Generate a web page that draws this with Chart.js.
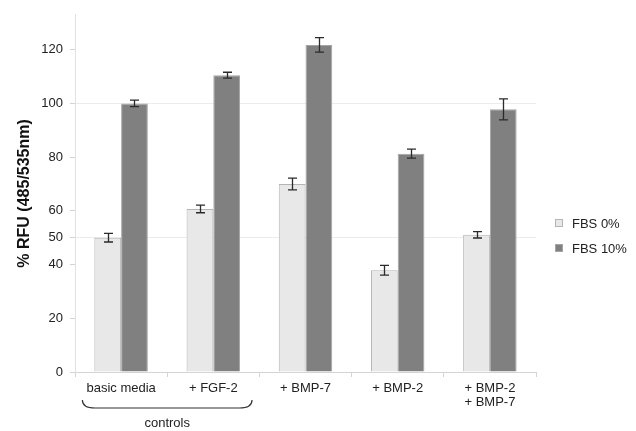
<!DOCTYPE html>
<html>
<head>
<meta charset="utf-8">
<script src="https://cdn.jsdelivr.net/npm/chart.js@4"></script>
<style>
  html, body { margin: 0; padding: 0; background: #fff; }
  #wrap { width: 636px; height: 431px; }
</style>
</head>
<body>
<div id="wrap"><canvas id="rfuChart" width="636" height="431"></canvas></div>
<script>
// data
const categories = ["basic media", "+ FGF-2", "+ BMP-7", "+ BMP-2", ["+ BMP-2", "+ BMP-7"]];
const seriesNames = ["FBS 0%", "FBS 10%"];
const fbs0 = [50.0, 60.7, 70.0, 37.9, 51.1];
const fbs10 = [100.0, 110.5, 121.8, 81.3, 97.8];
const fbs0Err = [1.6, 1.4, 2.2, 1.8, 1.2];
const fbs10Err = [1.2, 1.1, 2.7, 1.7, 3.9];
const yTicks = [0, 20, 40, 50, 60, 80, 100, 120];
const refLines = [50, 100];
const groupLabel = "controls";
const groupedCats = [0, 1];

const FONT = "'Liberation Sans', Arial, sans-serif";

// error bars drawn through the y scale
const errorBarPlugin = {
    id: "errorBars",
    afterDatasetsDraw(chart) {
        const ctx = chart.ctx;
        const y = chart.scales.y;
        const errs = [fbs0Err, fbs10Err];
        ctx.save();
        ctx.strokeStyle = "#2a2a2a";
        ctx.lineWidth = 1.3;
        chart.data.datasets.forEach((ds, i) => {
            chart.getDatasetMeta(i).data.forEach((bar, j) => {
                const top = y.getPixelForValue(ds.data[j] + errs[i][j]);
                const bot = y.getPixelForValue(ds.data[j] - errs[i][j]);
                const x = Math.round(bar.x) + 0.5;
                ctx.beginPath();
                ctx.moveTo(x, top); ctx.lineTo(x, bot);
                ctx.moveTo(x - 4.5, top); ctx.lineTo(x + 4.5, top);
                ctx.moveTo(x - 4.5, bot); ctx.lineTo(x + 4.5, bot);
                ctx.stroke();
            });
        });
        ctx.restore();
    }
};

// brace under the control groups + custom legend on the right
const extrasPlugin = {
    id: "extras",
    afterDraw(chart) {
        const ctx = chart.ctx;
        const x = chart.scales.x;
        const area = chart.chartArea;
        const step = x.getPixelForValue(1) - x.getPixelForValue(0);
        const left = x.getPixelForValue(groupedCats[0]) - step * 0.42;
        const right = x.getPixelForValue(groupedCats[groupedCats.length - 1]) + step * 0.42;
        const top = area.bottom + 28, bot = area.bottom + 36, r = 7;

        ctx.save();
        ctx.strokeStyle = "#333";
        ctx.lineWidth = 1.2;
        ctx.beginPath();
        ctx.moveTo(left, top);
        ctx.quadraticCurveTo(left, bot, left + r * 1.8, bot);
        ctx.lineTo(right - r * 1.8, bot);
        ctx.quadraticCurveTo(right, bot, right, top);
        ctx.stroke();

        ctx.fillStyle = "#222";
        ctx.font = "13px " + FONT;
        ctx.textAlign = "center";
        ctx.textBaseline = "middle";
        ctx.fillText(groupLabel, (left + right) / 2, area.bottom + 51);

        // legend
        ctx.textAlign = "left";
        chart.data.datasets.forEach((ds, i) => {
            const ly = 223 + i * 25;
            ctx.fillStyle = ds.backgroundColor;
            ctx.strokeStyle = ds.borderColor;
            ctx.lineWidth = 1;
            ctx.fillRect(555, ly - 4, 8, 8);
            ctx.strokeRect(555.5, ly - 3.5, 7, 7);
            ctx.fillStyle = "#222";
            ctx.fillText(ds.label, 572, ly + 1);
        });
        ctx.restore();
    }
};

new Chart(document.getElementById("rfuChart").getContext("2d"), {
    type: "bar",
    data: {
        labels: categories,
        datasets: [{
            label: seriesNames[0],
            data: fbs0,
            backgroundColor: "#e8e8e8",
            borderColor: "#b4b4b4",
            borderWidth: 1
        }, {
            label: seriesNames[1],
            data: fbs10,
            backgroundColor: "#808080",
            borderColor: "#a4a4a4",
            borderWidth: 1
        }]
    },
    options: {
        responsive: false,
        animation: false,
        layout: { padding: { top: 13, right: 100, left: 0, bottom: 0 } },
        plugins: {
            legend: { display: false },
            tooltip: { enabled: false }
        },
        datasets: {
            bar: { categoryPercentage: 0.58, barPercentage: 1.0 }
        },
        scales: {
            x: {
                afterFit: scale => { scale.height = 59; },
                grid: {
                    drawOnChartArea: false,
                    tickLength: 5,
                    color: "#d4d4d4"
                },
                border: { color: "#d4d4d4" },
                ticks: {
                    color: "#222",
                    padding: 4,
                    font: { family: FONT, size: 13, lineHeight: 1.1 }
                }
            },
            y: {
                min: 0,
                max: 133,
                afterFit: scale => { scale.width = 75; },
                afterBuildTicks: scale => {
                    scale.ticks = yTicks.map(v => ({ value: v }));
                },
                grid: {
                    color: c => refLines.includes(c.tick && c.tick.value) ? "#ececec" : "rgba(0,0,0,0)",
                    tickColor: "#d4d4d4",
                    tickLength: 5
                },
                border: { color: "#e2e2e2" },
                ticks: {
                    color: "#222",
                    padding: 7,
                    font: { family: FONT, size: 13 }
                },
                title: {
                    display: true,
                    text: "% RFU (485/535nm)",
                    color: "#111",
                    padding: { top: 15, bottom: 0 },
                    font: { family: FONT, size: 16, weight: "bold" }
                }
            }
        }
    },
    plugins: [errorBarPlugin, extrasPlugin]
});
</script>
</body>
</html>
